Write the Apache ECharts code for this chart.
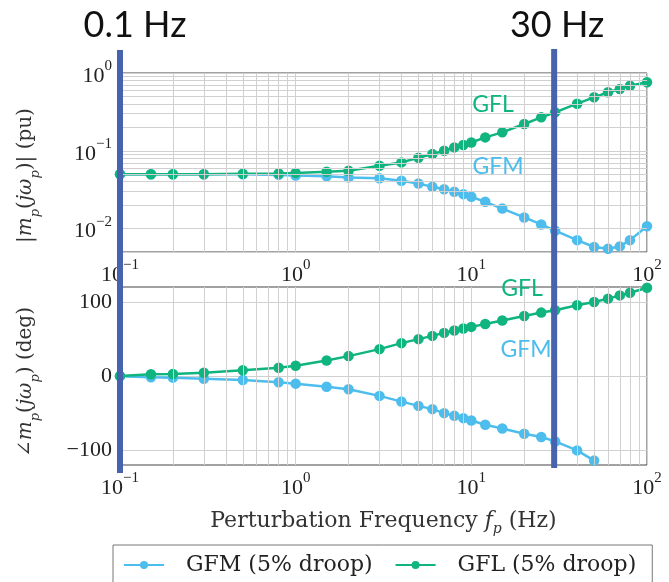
<!DOCTYPE html>
<html>
<head>
<meta charset="utf-8">
<script src="https://cdn.jsdelivr.net/npm/echarts@6/dist/echarts.min.js"></script>
<style>
  html, body { margin: 0; padding: 0; background: #fff; }
  #chart { width: 669px; height: 582px; }
</style>
</head>
<body>
<div id="chart"></div>
<script>
  // frequencies (Hz)
  var freq = [0.1, 0.15, 0.2, 0.3, 0.5, 0.8, 1, 1.5, 2, 3, 4, 5, 6, 7, 8, 9, 10, 12, 15, 20, 25, 30, 40, 50, 60, 70, 80, 100]
  // magnitude (pu)
  var gfmMag = [0.05, 0.05, 0.05, 0.05, 0.05, 0.049, 0.048, 0.047, 0.0455, 0.0443, 0.0411, 0.038, 0.0344, 0.0321, 0.0297, 0.0277, 0.0256, 0.0221, 0.0181, 0.0139, 0.0113, 0.0094, 0.0071, 0.0058, 0.0055, 0.0059, 0.0071, 0.0107]
  var gflMag = [0.05, 0.05, 0.05, 0.05, 0.0505, 0.051, 0.052, 0.0537, 0.0553, 0.0641, 0.0709, 0.0813, 0.0907, 0.1, 0.1106, 0.1184, 0.128, 0.1487, 0.1725, 0.221, 0.269, 0.312, 0.403, 0.487, 0.565, 0.623, 0.687, 0.759]
  // phase (deg)
  var gfmPhase = [-0.5, -1.8, -2.2, -3.6, -5.4, -8.5, -10.3, -14.4, -17.9, -26.8, -34.5, -40.3, -44.7, -50.1, -53.7, -56.8, -60, -65.8, -70.7, -77.9, -82.3, -88.2, -100.3, -114.1, null, null, null, null]
  var gflPhase = [0, 2.3, 2.7, 4.4, 7.6, 11.2, 13.8, 21, 26.8, 36.2, 44.3, 49.7, 54.1, 58.1, 61.3, 64, 66.2, 70.2, 74.8, 80.9, 85.5, 88.6, 95.3, 99.7, 104.3, 108.7, 112.3, 119]
  // grid lines
  var freqMinor = [0.2, 0.3, 0.4, 0.5, 0.6, 0.7, 0.8, 0.9, 2, 3, 4, 5, 6, 7, 8, 9, 20, 30, 40, 50, 60, 70, 80, 90]
  var magMinor = [0.006, 0.007, 0.008, 0.009, 0.02, 0.03, 0.04, 0.05, 0.06, 0.07, 0.08, 0.09, 0.2, 0.3, 0.4, 0.5, 0.6, 0.7, 0.8, 0.9]
  var phaseTicks = [-100, 0, 100]
  var marked = [0.1, 30]

  var serif = 'Liberation Serif'
  var wide = 'DejaVu Serif'
  var cGFM = '#4cbdec'
  var cGFL = '#0fb47f'
  var cMark = '#4763ad'
  var gridColor = '#d0d0d0'

  var pair = function (ys) {
    return freq.map(function (f, i) { return [f, ys[i]] })
  }

  var powLabel = function (v) {
    var e = Math.round(Math.log10(v))
    if (Math.abs(Math.log10(v) - e) > 1e-6) return ''
    return '{b|10}{sup|' + String(e).replace('-', '\u2212') + '}'
  }

  var labelRich = {
    b: { fontFamily: serif, fontSize: 22, color: '#222', lineHeight: 28, verticalAlign: 'bottom' },
    sup: { fontFamily: serif, fontSize: 15, color: '#222', lineHeight: 15, verticalAlign: 'top' },
  }
  var nameRich = {
    t: { fontFamily: wide, fontSize: 20, color: '#333', lineHeight: 26, verticalAlign: 'top' },
    i: { fontFamily: wide, fontSize: 20, fontStyle: 'italic', color: '#333', lineHeight: 26, verticalAlign: 'top' },
    s: { fontFamily: wide, fontSize: 13, fontStyle: 'italic', color: '#333', lineHeight: 22, verticalAlign: 'bottom' },
  }
  var xNameRich = {
    t: Object.assign({}, nameRich.t, { fontSize: 22 }),
    i: Object.assign({}, nameRich.i, { fontSize: 22 }),
    s: Object.assign({}, nameRich.s, { fontSize: 14 }),
  }

  var xAxisBase = function (gridIndex) {
    return {
      type: 'log',
      logBase: 10,
      gridIndex: gridIndex,
      min: 0.1,
      max: 100,
      axisLine: { show: false },
      axisTick: { show: false },
      axisLabel: { formatter: powLabel, rich: labelRich, margin: 6 },
      splitLine: { show: true, lineStyle: { color: gridColor, width: 1 } },
    }
  }

  var minorLines = function (gridIndex, withMag) {
    var d = freqMinor.map(function (f) { return { xAxis: f } })
    if (withMag) d = d.concat(magMinor.map(function (v) { return { yAxis: v } }))
    return {
      type: 'line',
      xAxisIndex: gridIndex,
      yAxisIndex: gridIndex,
      data: [],
      z: 1,
      silent: true,
      markLine: {
        silent: true,
        animation: false,
        symbol: ['none', 'none'],
        label: { show: false },
        lineStyle: { color: gridColor, width: 1, type: 'solid' },
        data: d,
      },
    }
  }

  var dataSeries = function (name, ys, color, gridIndex) {
    return {
      name: name,
      type: 'line',
      xAxisIndex: gridIndex,
      yAxisIndex: gridIndex,
      data: pair(ys),
      z: 3,
      symbol: 'circle',
      symbolSize: 10.5,
      showSymbol: true,
      connectNulls: false,
      lineStyle: { color: color, width: 2.5 },
      itemStyle: { color: color, borderWidth: 0 },
      animation: false,
    }
  }

  var chart = echarts.init(document.getElementById('chart'))
  var option = {
    backgroundColor: '#fff',
    grid: [
      { left: 120, right: 22, top: 73, height: 179, show: true, borderColor: '#444', borderWidth: 1 },
      { left: 120, right: 22, top: 287, height: 178, show: true, borderColor: '#444', borderWidth: 1 },
    ],
    xAxis: [
      xAxisBase(0),
      Object.assign(xAxisBase(1), {
        name: '{t|Perturbation Frequency }{i|f}{s|p}{t| (Hz)}',
        nameLocation: 'middle',
        nameGap: 45,
        nameTextStyle: { rich: xNameRich },
      }),
    ],
    yAxis: [
      {
        type: 'log',
        logBase: 10,
        gridIndex: 0,
        min: 0.005,
        max: 1,
        axisLine: { show: false },
        axisTick: { show: false },
        axisLabel: { formatter: powLabel, rich: labelRich, margin: 8 },
        splitLine: { show: true, lineStyle: { color: gridColor, width: 1 } },
        name: '{t||}{i|m}{s|p}{t|(}{i|j\u03c9}{s|p}{t|)| (pu)}',
        nameLocation: 'middle',
        nameRotate: 90,
        nameGap: 78,
        nameTextStyle: { rich: nameRich, padding: [0, 26, 0, 0] },
      },
      {
        type: 'value',
        gridIndex: 1,
        min: -120,
        max: 120,
        axisLine: { show: false },
        axisTick: { show: false, customValues: phaseTicks },
        axisLabel: {
          customValues: phaseTicks,
          margin: 8,
          fontFamily: serif,
          fontSize: 22,
          color: '#222',
          formatter: function (v) { return String(v).replace('-', '\u2212') },
        },
        splitLine: { show: true, lineStyle: { color: gridColor, width: 1 } },
        name: '{t|\u2220}{i|m}{s|p}{t|(}{i|j\u03c9}{s|p}{t|) (deg)}',
        nameLocation: 'middle',
        nameRotate: 90,
        nameGap: 78,
        nameTextStyle: { rich: nameRich, padding: [0, 12, 0, 0] },
      },
    ],
    legend: {
      left: 113,
      top: 545,
      orient: 'horizontal',
      data: ['GFM (5% droop)', 'GFL (5% droop)'],
      itemWidth: 40,
      itemHeight: 10,
      itemGap: 22,
      padding: [9, 16, 14, 10],
      borderColor: '#777',
      borderWidth: 1,
      textStyle: { fontFamily: wide, fontSize: 22, color: '#222', padding: [0, 0, 0, 17] },
    },
    series: [
      minorLines(0, true),
      minorLines(1, false),
      dataSeries('GFM (5% droop)', gfmMag, cGFM, 0),
      dataSeries('GFL (5% droop)', gflMag, cGFL, 0),
      dataSeries('GFM (5% droop)', gfmPhase, cGFM, 1),
      dataSeries('GFL (5% droop)', gflPhase, cGFL, 1),
    ],
  }
  option && chart.setOption(option)

  // annotation overlay: vertical marker bars at 0.1 Hz and 30 Hz
  var xs = marked.map(function (f) { return chart.convertToPixel({ xAxisIndex: 0 }, f) })
  var sans = 'Lato'
  chart.setOption({
    graphic: [
      { type: 'rect', z: 10, shape: { x: xs[0] - 3, y: 50, width: 6, height: 423 }, style: { fill: cMark } },
      { type: 'rect', z: 10, shape: { x: xs[1] - 4, y: 49, width: 6, height: 419 }, style: { fill: cMark } },
      { type: 'text', z: 10, x: xs[0] + 15, y: 25, style: { text: '0.1 Hz', font: '36px ' + sans, fill: '#111', align: 'center', verticalAlign: 'middle' } },
      { type: 'text', z: 10, x: xs[1] + 2, y: 25, style: { text: '30 Hz', font: '36px ' + sans, fill: '#111', align: 'center', verticalAlign: 'middle' } },
      { type: 'text', z: 10, x: 493, y: 105, style: { text: 'GFL', font: '23px ' + sans, fill: cGFL, align: 'center', verticalAlign: 'middle' } },
      { type: 'text', z: 10, x: 498, y: 167, style: { text: 'GFM', font: '23px ' + sans, fill: cGFM, align: 'center', verticalAlign: 'middle' } },
      { type: 'text', z: 10, x: 522, y: 289, style: { text: 'GFL', font: '23px ' + sans, fill: cGFL, align: 'center', verticalAlign: 'middle' } },
      { type: 'text', z: 10, x: 526, y: 350, style: { text: 'GFM', font: '23px ' + sans, fill: cGFM, align: 'center', verticalAlign: 'middle' } },
    ],
  })
</script>
</body>
</html>
